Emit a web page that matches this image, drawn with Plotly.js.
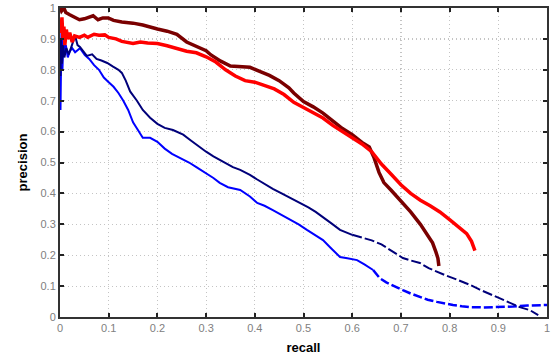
<!DOCTYPE html>
<html>
<head>
<meta charset="utf-8">
<script src="https://cdn.plot.ly/plotly-3.0.1.min.js"></script>
<style>html,body{margin:0;padding:0;background:#fff;}#chart{width:552px;height:356px;}</style>
</head>
<body>
<div id="chart"></div>
<script>
// Precision–recall curves
const recallDarkRed = [0.0, 0.003, 0.008, 0.012, 0.02, 0.031, 0.04, 0.05, 0.057, 0.068, 0.078, 0.088, 0.099, 0.11, 0.127, 0.14, 0.15, 0.17, 0.185, 0.2, 0.22, 0.24, 0.26, 0.28, 0.3, 0.31, 0.33, 0.35, 0.37, 0.39, 0.41, 0.43, 0.45, 0.47, 0.48, 0.5, 0.52, 0.54, 0.56, 0.58, 0.6, 0.62, 0.635, 0.645, 0.655, 0.665, 0.68, 0.7, 0.72, 0.74, 0.755, 0.765, 0.772, 0.776, 0.778];
const precisionDarkRed = [1.0, 0.99, 1.0, 0.985, 0.978, 0.97, 0.962, 0.965, 0.968, 0.975, 0.962, 0.968, 0.968, 0.96, 0.955, 0.953, 0.951, 0.945, 0.938, 0.932, 0.925, 0.915, 0.89, 0.875, 0.862, 0.848, 0.828, 0.812, 0.81, 0.808, 0.795, 0.782, 0.765, 0.742, 0.725, 0.697, 0.68, 0.66, 0.635, 0.61, 0.59, 0.565, 0.55, 0.515, 0.468, 0.435, 0.41, 0.375, 0.34, 0.3, 0.265, 0.24, 0.21, 0.19, 0.165];

const recallRed = [0.0, 0.002, 0.004, 0.006, 0.008, 0.01, 0.013, 0.016, 0.02, 0.025, 0.03, 0.04, 0.05, 0.057, 0.07, 0.08, 0.092, 0.1, 0.115, 0.127, 0.15, 0.165, 0.18, 0.2, 0.22, 0.24, 0.26, 0.28, 0.3, 0.32, 0.34, 0.36, 0.38, 0.4, 0.42, 0.44, 0.46, 0.48, 0.5, 0.52, 0.54, 0.56, 0.58, 0.6, 0.62, 0.64, 0.66, 0.68, 0.7, 0.72, 0.74, 0.76, 0.78, 0.8, 0.82, 0.835, 0.845, 0.852];
const precisionRed = [0.95, 0.92, 0.97, 0.9, 0.94, 0.88, 0.93, 0.9, 0.92, 0.89, 0.91, 0.905, 0.912, 0.905, 0.915, 0.912, 0.913, 0.905, 0.9, 0.892, 0.885, 0.89, 0.887, 0.885, 0.878, 0.87, 0.86, 0.855, 0.842, 0.825, 0.8, 0.78, 0.765, 0.76, 0.75, 0.738, 0.72, 0.695, 0.678, 0.662, 0.644, 0.62, 0.6, 0.58, 0.56, 0.535, 0.495, 0.462, 0.428, 0.4, 0.378, 0.36, 0.34, 0.315, 0.29, 0.27, 0.245, 0.215];

const recallNavy = [0.001, 0.002, 0.004, 0.006, 0.009, 0.013, 0.018, 0.024, 0.031, 0.036, 0.041, 0.048, 0.055, 0.066, 0.075, 0.085, 0.097, 0.109, 0.12, 0.127, 0.135, 0.144, 0.158, 0.17, 0.185, 0.2, 0.215, 0.232, 0.253, 0.268, 0.28, 0.3, 0.315, 0.328, 0.355, 0.37, 0.39, 0.405, 0.42, 0.437, 0.455, 0.475, 0.493, 0.51, 0.525, 0.54, 0.558, 0.575, 0.6, 0.622, 0.64, 0.66, 0.68, 0.704, 0.72, 0.739, 0.757, 0.774, 0.79, 0.807, 0.825, 0.842, 0.86, 0.877, 0.895, 0.91, 0.93, 0.944, 0.965, 0.982];
const precisionNavy = [0.78, 0.9, 0.82, 0.88, 0.84, 0.87, 0.85, 0.88, 0.91, 0.88, 0.874, 0.86, 0.845, 0.85, 0.835, 0.83, 0.822, 0.81, 0.8, 0.79, 0.765, 0.73, 0.7, 0.67, 0.645, 0.625, 0.612, 0.605, 0.59, 0.572, 0.557, 0.535, 0.52, 0.508, 0.485, 0.476, 0.46, 0.445, 0.43, 0.415, 0.4, 0.384, 0.369, 0.355, 0.34, 0.324, 0.302, 0.282, 0.266, 0.256, 0.248, 0.235, 0.215, 0.191, 0.183, 0.175, 0.158, 0.146, 0.136, 0.126, 0.115, 0.104, 0.09, 0.078, 0.066, 0.055, 0.042, 0.032, 0.022, 0.006];

const recallBlue = [0.001, 0.002, 0.003, 0.005, 0.007, 0.009, 0.012, 0.016, 0.02, 0.025, 0.031, 0.041, 0.051, 0.06, 0.07, 0.08, 0.09, 0.1, 0.11, 0.12, 0.13, 0.14, 0.15, 0.16, 0.17, 0.185, 0.2, 0.215, 0.23, 0.246, 0.265, 0.28, 0.3, 0.315, 0.328, 0.345, 0.37, 0.39, 0.405, 0.42, 0.437, 0.455, 0.472, 0.49, 0.507, 0.525, 0.54, 0.555, 0.575, 0.59, 0.61, 0.625, 0.643, 0.657, 0.67, 0.685, 0.704, 0.72, 0.739, 0.755, 0.774, 0.79, 0.807, 0.825, 0.842, 0.87, 0.9, 0.93, 0.96, 1.0];
const precisionBlue = [0.67, 0.79, 0.93, 0.8, 0.9, 0.85, 0.88, 0.84, 0.86, 0.87, 0.857, 0.87, 0.848, 0.835, 0.815, 0.8, 0.775, 0.76, 0.745, 0.725, 0.7, 0.67, 0.63, 0.605, 0.58, 0.58, 0.567, 0.545, 0.528, 0.515, 0.5, 0.485, 0.466, 0.45, 0.434, 0.42, 0.411, 0.39, 0.369, 0.36, 0.346, 0.33, 0.314, 0.3, 0.282, 0.265, 0.249, 0.225, 0.194, 0.19, 0.184, 0.17, 0.152, 0.125, 0.112, 0.1, 0.087, 0.076, 0.065, 0.056, 0.049, 0.043, 0.039, 0.035, 0.032, 0.031, 0.032, 0.034, 0.037, 0.039];

const tickValues = [0, 0.1, 0.2, 0.3, 0.4, 0.5, 0.6, 0.7, 0.8, 0.9, 1];
const tickLabels = ['0', '0.1', '0.2', '0.3', '0.4', '0.5', '0.6', '0.7', '0.8', '0.9', '1'];

const navyDashFrom = 0.6;
const blueDashFrom = 0.64;

function split(xs, ys, from) {
  const i = xs.findIndex(v => v >= from);
  return {
    solid: {x: xs.slice(0, i + 1), y: ys.slice(0, i + 1)},
    dashed: {x: xs.slice(i), y: ys.slice(i)}
  };
}
const navyParts = split(recallNavy, precisionNavy, navyDashFrom);
const blueParts = split(recallBlue, precisionBlue, blueDashFrom);

const traces = [
  {x: blueParts.solid.x, y: blueParts.solid.y, mode: 'lines', line: {color: '#0000ff', width: 2}},
  {x: blueParts.dashed.x, y: blueParts.dashed.y, mode: 'lines', line: {color: '#0000ff', width: 2.5, dash: '9px,3px'}},
  {x: navyParts.solid.x, y: navyParts.solid.y, mode: 'lines', line: {color: '#00007a', width: 2}},
  {x: navyParts.dashed.x, y: navyParts.dashed.y, mode: 'lines', line: {color: '#00007a', width: 2, dash: '10px,3px'}},
  {x: recallDarkRed, y: precisionDarkRed, mode: 'lines', line: {color: '#7a0000', width: 3.5}},
  {x: recallRed, y: precisionRed, mode: 'lines', line: {color: '#ff0000', width: 3.5}}
];

const axisCommon = {
  range: [0, 1],
  tickvals: tickValues,
  ticktext: tickLabels,
  ticks: 'inside',
  ticklen: 4,
  tickwidth: 2,
  tickcolor: '#222',
  showline: true,
  linecolor: '#333',
  linewidth: 2,
  mirror: 'ticks',
  showgrid: true,
  gridcolor: '#c4c4c4',
  griddash: '1px,3px',
  gridwidth: 1.2,
  zeroline: false,
  tickfont: {family: 'Liberation Sans, Arial, sans-serif', size: 11, color: '#808080'},
  fixedrange: true
};

const layout = {
  width: 552,
  height: 356,
  margin: {l: 60, r: 5, t: 8, b: 39},
  paper_bgcolor: '#ffffff',
  plot_bgcolor: '#ffffff',
  showlegend: false,
  xaxis: Object.assign({}, axisCommon, {
    title: {text: 'recall', font: {family: 'Liberation Sans, Arial, sans-serif', size: 13, color: '#000', weight: 'bold'}, standoff: 10}
  }),
  yaxis: Object.assign({}, axisCommon, {
    title: {text: 'precision', font: {family: 'Liberation Sans, Arial, sans-serif', size: 13, color: '#000', weight: 'bold'}, standoff: 10}
  })
};

Plotly.newPlot('chart', traces, layout, {staticPlot: true, displayModeBar: false});
</script>
</body>
</html>
